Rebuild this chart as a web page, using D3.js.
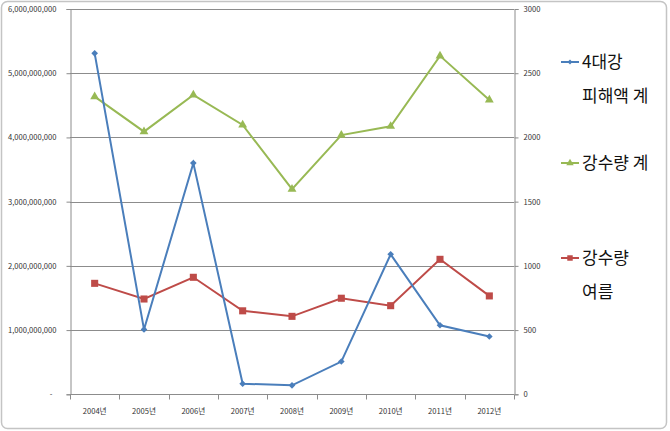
<!DOCTYPE html>
<html><head><meta charset="utf-8">
<script src="https://cdn.jsdelivr.net/npm/d3@7"></script>
<style>
html,body{margin:0;padding:0;background:#fff;}
svg{display:block;}
</style></head>
<body>
<svg id="chart" width="670" height="431"></svg>
<script>
const categories = ["2004년","2005년","2006년","2007년","2008년","2009년","2010년","2011년","2012년"];
const damage = [5310000000,1010000000,3600000000,165000000,140000000,510000000,2180000000,1075000000,900000000];
const rainTotal = [2318,2045,2331,2097,1597,2018,2087,2635,2292];
const rainSummer = [864,742,911,650,607,748,690,1051,766];
const leftTicks = [0,1e9,2e9,3e9,4e9,5e9,6e9];
const rightTicks = [0,500,1000,1500,2000,2500,3000];
const legendLabels = [["4대강","피해액 계"],["강수량 계"],["강수량","여름"]];

const svg = d3.select("#chart");
const L = 70, R = 514, T = 9, B = 394.3;
const font = "'Noto Sans CJK KR', 'Noto Sans', sans-serif";

// outer border
svg.append("rect").attr("x",1.5).attr("y",1.5).attr("width",665).attr("height",427)
  .attr("rx",6).attr("fill","#fff").attr("stroke","#c4c4c4").attr("stroke-width",1.5);

const x = d3.scaleBand().domain(categories).range([L,R]).padding(0);
const yL = d3.scaleLinear().domain([0,6e9]).range([B,T]);
const yR = d3.scaleLinear().domain([0,3000]).range([B,T]);

// gridlines
svg.append("g").selectAll("line").data(leftTicks.filter(d=>d>0)).join("line")
  .attr("x1",L).attr("x2",R).attr("y1",d=>Math.round(yL(d))+0.5).attr("y2",d=>Math.round(yL(d))+0.5)
  .attr("stroke","#8c8c8c").attr("stroke-width",1);

// left axis
const fmt = d => d===0 ? "-" : d3.format(",")(d);
const gL = svg.append("g").attr("transform",`translate(${L+0.5},0)`)
  .call(d3.axisLeft(yL).tickValues(leftTicks).tickFormat(fmt).tickSize(4).tickPadding(10));
gL.select(".domain").attr("stroke","#8c8c8c");
gL.selectAll(".tick line").attr("stroke","#8c8c8c");
gL.selectAll("text").attr("font-family",font).attr("font-size",7.6).attr("fill","#333");
gL.selectAll(".tick").filter(d=>d===0).select("text").attr("dx",-4);

// right axis
const gR = svg.append("g").attr("transform",`translate(${R+0.5},0)`)
  .call(d3.axisRight(yR).tickValues(rightTicks).tickFormat(d3.format("d")).tickSize(4).tickPadding(5));
gR.select(".domain").attr("stroke","#8c8c8c");
gR.selectAll(".tick line").attr("stroke","#8c8c8c");
gR.selectAll("text").attr("font-family",font).attr("font-size",7.6).attr("fill","#333");

// bottom axis
const gB = svg.append("g").attr("transform",`translate(0,${Math.round(B)+0.5})`);
gB.append("line").attr("x1",L).attr("x2",R).attr("stroke","#8c8c8c");
const bounds = categories.map(c=>x(c)).concat([R]);
gB.selectAll("line.tk").data(bounds).join("line").attr("class","tk")
  .attr("x1",d=>Math.round(d)+0.5).attr("x2",d=>Math.round(d)+0.5).attr("y1",0).attr("y2",5)
  .attr("stroke","#8c8c8c");
gB.selectAll("text").data(categories).join("text")
  .attr("x",d=>x(d)+x.bandwidth()/2).attr("y",19).attr("text-anchor","middle")
  .attr("font-family",font).attr("font-size",7.6).attr("fill","#333").text(d=>d);

const cx = d => x(d)+x.bandwidth()/2;

function drawSeries(vals, yScale, color, sym, size, rot){
  const pts = vals.map((v,i)=>[cx(categories[i]), yScale(v)]);
  svg.append("path").attr("d",d3.line()(pts)).attr("fill","none")
    .attr("stroke",color).attr("stroke-width",2);
  svg.append("g").selectAll("path").data(pts).join("path")
    .attr("transform",d=>`translate(${d[0]},${d[1]}) rotate(${rot||0})`)
    .attr("d",d3.symbol().type(sym).size(size)).attr("fill",color);
}
const blue="#4A7EBB", red="#BE4B48", green="#98B954";
drawSeries(rainTotal, yR, green, d3.symbolTriangle, 34);
drawSeries(rainSummer, yR, red, d3.symbolSquare, 50);
drawSeries(damage, yL, blue, d3.symbolSquare, 22, 45);

// legend
const legend = [
  {lines:legendLabels[0], color:blue, sym:d3.symbolSquare, size:12, rot:45, y:62},
  {lines:legendLabels[1], color:green, sym:d3.symbolTriangle, size:24, rot:0, y:163},
  {lines:legendLabels[2], color:red, sym:d3.symbolSquare, size:30, rot:0, y:258}
];
legend.forEach(l=>{
  const g = svg.append("g");
  g.append("line").attr("x1",561).attr("x2",579).attr("y1",l.y).attr("y2",l.y)
    .attr("stroke",l.color).attr("stroke-width",2);
  g.append("path").attr("transform",`translate(570,${l.y}) rotate(${l.rot})`)
    .attr("d",d3.symbol().type(l.sym).size(l.size)).attr("fill",l.color);
  l.lines.forEach((t,i)=>{
    g.append("text").attr("x",582).attr("y",l.y+6+i*34)
      .attr("font-family",font).attr("font-size",17).attr("fill","#111").text(t);
  });
});
</script>
</body></html>
